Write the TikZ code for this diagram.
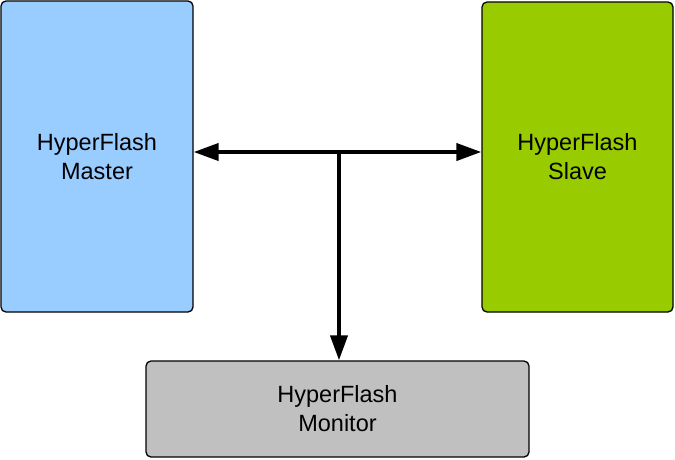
\documentclass[tikz,border=0pt]{standalone}
\usepackage{fontspec}
\setmainfont{Liberation Sans}
\usepackage{tikz}
\usetikzlibrary{arrows.meta}

\definecolor{masterblue}{HTML}{99CCFF}
\definecolor{slavegreen}{HTML}{99CC00}
\definecolor{monitorgray}{HTML}{C0C0C0}

\begin{document}
\begin{tikzpicture}[x=1pt, y=-1pt,
    block/.style={draw=black, line width=1.3pt, rounded corners=5pt, align=center,
        inner sep=0pt, font=\fontsize{23.5}{29}\selectfont},
    bus/.style={line width=4pt, -{Triangle[length=25pt, width=17pt]}}]
    \useasboundingbox (0, 0) rectangle (675, 459);

    % draw the three blocks
    \node[block, fill=masterblue, minimum width=192pt, minimum height=311pt] (master) at (97, 156.5) {HyperFlash\\Master};
    \node[block, fill=slavegreen, minimum width=191pt, minimum height=310pt] (slave) at (577.5, 157) {HyperFlash\\Slave};
    \node[block, fill=monitorgray, minimum width=383pt, minimum height=96pt] (monitor) at (337.5, 409) {HyperFlash\\Monitor};

    % draw bus arrows
    \coordinate (junction) at (339, 152);
    \draw[bus, {Triangle[length=25pt, width=17pt]}-{Triangle[length=25pt, width=17pt]}] (master.east |- junction) -- (slave.west |- junction);
    \draw[bus] (junction) -- (monitor.north -| junction);

\end{tikzpicture}
\end{document}
